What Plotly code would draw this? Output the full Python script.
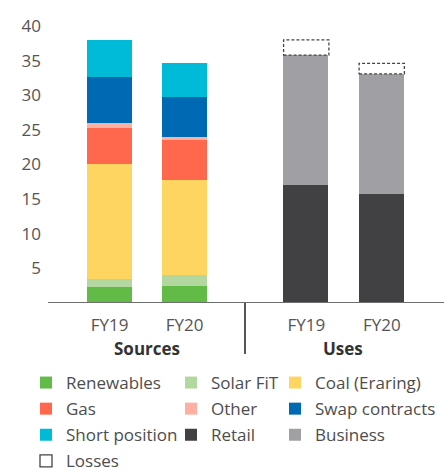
import plotly.graph_objects as go

# ---- data ----
years = ["FY19", "FY20"]
renewables = [2.3, 2.5]
solar_fit = [1.2, 1.6]
coal = [16.6, 13.6]
gas = [5.2, 5.8]
other = [0.7, 0.4]
swap_contracts = [6.7, 5.8]
short_position = [5.3, 4.9]
retail = [17.0, 15.8]
business = [18.8, 17.3]
losses = [2.2, 1.5]
y_ticks = [5, 10, 15, 20, 25, 30, 35, 40]
group_titles = ["Sources", "Uses"]

FONT = "Open Sans"
TXT = "#4d4d4d"
BAR_W = 0.6

fig = go.Figure()

src = [
    ("Renewables", renewables, "#62BB46", "legend"),
    ("Solar FiT", solar_fit, "#B2D8A0", "legend2"),
    ("Coal (Eraring)", coal, "#FFD561", "legend3"),
    ("Gas", gas, "#FF684D", "legend"),
    ("Other", other, "#FFB0A3", "legend2"),
    ("Swap contracts", swap_contracts, "#0069B4", "legend3"),
    ("Short position", short_position, "#00BBD7", "legend"),
]
for name, vals, col, lg in src:
    fig.add_trace(go.Bar(x=years, y=vals, name=name, marker_color=col,
                         marker_line_width=0, width=BAR_W, xaxis="x", yaxis="y",
                         legend=lg, legendgroup=name, hoverinfo="skip"))

uses = [
    ("Retail", retail, "#414042", "legend2"),
    ("Business", business, "#A0A0A4", "legend3"),
]
for name, vals, col, lg in uses:
    fig.add_trace(go.Bar(x=years, y=vals, name=name, marker_color=col,
                         marker_line_width=0, width=BAR_W, xaxis="x2", yaxis="y",
                         legend=lg, legendgroup=name, hoverinfo="skip"))

# losses as dashed boxes on top of uses bars
for i, yr in enumerate(years):
    base = retail[i] + business[i]
    fig.add_shape(type="rect", xref="x2", yref="y",
                  x0=i - BAR_W / 2, x1=i + BAR_W / 2, y0=base, y1=base + losses[i],
                  line=dict(color="#444444", width=1.3, dash="3px,2px"),
                  fillcolor="rgba(0,0,0,0)", layer="above",
                  showlegend=(i == 0), name="Losses", legend="legend", legendgroup="Losses")

# baseline and divider
fig.add_shape(type="line", xref="paper", yref="y", x0=0, x1=1, y0=0, y1=0,
              line=dict(color="#6e6e6e", width=2), layer="above")
fig.add_shape(type="line", xref="paper", yref="paper", x0=0.4975, x1=0.4975, y0=0, y1=-0.184,
              line=dict(color="#555555", width=2))

# group titles
for title, xc in zip(group_titles, [0.25, 0.746]):
    fig.add_annotation(text="<b>%s</b>" % title, xref="paper", yref="paper", x=xc, y=-0.166,
                       showarrow=False, xanchor="center", yanchor="middle",
                       font=dict(family=FONT, size=17, color="#333333"))

leg_common = dict(orientation="v", yanchor="top", xanchor="left", bgcolor="rgba(0,0,0,0)",
                  xref="container", yref="container",
                  font=dict(family=FONT, size=17, color=TXT), tracegroupgap=1,
                  traceorder="grouped", borderwidth=0)
LEG_TOP = 1 - 365 / 472

fig.update_layout(
    width=444, height=472,
    margin=dict(l=48, r=0, t=26, b=169, autoexpand=False),
    plot_bgcolor="white", paper_bgcolor="white",
    barmode="stack", bargap=0,
    font=dict(family=FONT, size=17, color=TXT),
    xaxis=dict(domain=[0.0606, 0.4394], anchor="y", showgrid=False, showline=False,
               ticks="", tickfont=dict(size=17, color="#555"), ticklabelstandoff=10,
               automargin=False),
    xaxis2=dict(domain=[0.5568, 0.9381], anchor="y", showgrid=False, showline=False,
                ticks="", tickfont=dict(size=17, color="#555"), ticklabelstandoff=10,
                automargin=False),
    yaxis=dict(range=[0, 40], anchor="free", position=0, showgrid=False, showline=False,
               zeroline=False, ticks="", tickvals=y_ticks, ticklabelstandoff=7,
               tickfont=dict(size=17, color="#555"), automargin=False),
    legend=dict(x=26 / 444, y=LEG_TOP, **leg_common),
    legend2=dict(x=171 / 444, y=LEG_TOP, **leg_common),
    legend3=dict(x=275 / 444, y=LEG_TOP, **leg_common),
    showlegend=True,
)

fig.write_html("out.html", config={"displayModeBar": False},
               post_script="document.body.style.margin='0';")
